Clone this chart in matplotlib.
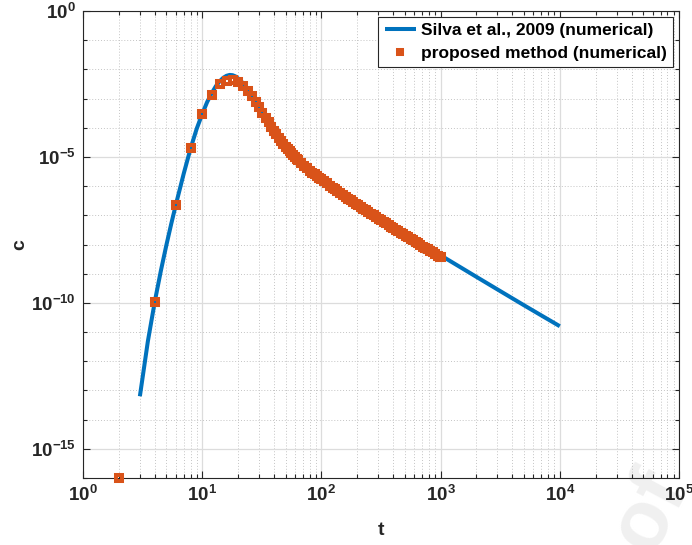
#!/usr/bin/env python3

# plot.py - log-log comparison of concentration curves

import numpy as np
import matplotlib
matplotlib.use('Agg')
import matplotlib.pyplot as plt
from matplotlib.ticker import FixedLocator, LogLocator, LogFormatterMathtext, NullFormatter

# Silva et al., 2009 (line), values as log10(c)
t_silva = [3, 3.5, 4, 4.5, 5, 5.5, 6, 7, 8, 9, 10, 11, 12, 13, 14, 15, 16, 17, 18, 19, 20,
           22, 24, 26, 28, 30, 32, 34, 36, 38, 40, 45, 50, 55, 60, 70, 80, 90, 100,
           120, 150, 200, 300, 500, 700, 1000, 2000, 3000, 5000, 7000, 10000]
logc_silva = [-13.2, -11.32, -9.96, -8.90, -8.03, -7.29, -6.65, -5.57, -4.70, -4.03, -3.53,
              -3.12, -2.82, -2.58, -2.41, -2.29, -2.22, -2.19, -2.20, -2.24, -2.31,
              -2.47, -2.66, -2.86, -3.06, -3.25, -3.43, -3.60, -3.76, -3.91, -4.04,
              -4.33, -4.57, -4.77, -4.94, -5.18, -5.40, -5.56, -5.70,
              -5.93, -6.22, -6.57, -7.03, -7.61, -7.98, -8.37, -9.11, -9.54, -10.08, -10.43, -10.80]

# proposed method (markers), log10(c)
t_prop = [2, 4, 6, 8, 10, 12, 14, 16, 18, 20, 22, 24, 26, 28, 30, 32, 34, 36, 38, 40,
          42, 44, 46, 48, 50, 52, 54, 56, 58, 60,
          62, 64, 68, 72, 76, 80, 84, 88, 92, 96, 100,
          106, 112, 118, 124, 130, 136, 144, 152, 160, 168, 176, 184,
          194, 204, 214, 224, 236, 248, 260, 274, 288, 302, 316,
          332, 348, 366, 384, 402, 422, 442, 464, 486, 510, 534, 560, 588,
          616, 646, 678, 710, 744, 780, 818, 858, 900, 944, 990, 1000]
logc_prop = [-16.0, -9.97, -6.65, -4.70, -3.54, -2.87, -2.51, -2.39, -2.38, -2.44,
             -2.56, -2.73, -2.92, -3.11, -3.30, -3.48, -3.65, -3.81, -3.96, -4.10,
             -4.23, -4.35, -4.46, -4.56, -4.65, -4.73, -4.81, -4.88, -4.95, -5.01,
             -5.07, -5.12, -5.22, -5.31, -5.39, -5.47, -5.54, -5.60, -5.66, -5.71, -5.76,
             -5.84, -5.91, -5.98, -6.05, -6.11, -6.17, -6.24, -6.31, -6.37, -6.43, -6.48, -6.54,
             -6.60, -6.66, -6.72, -6.77, -6.83, -6.89, -6.94, -7.00, -7.06, -7.11, -7.17,
             -7.22, -7.27, -7.33, -7.39, -7.44, -7.49, -7.54, -7.60, -7.65, -7.70, -7.75, -7.81, -7.86,
             -7.91, -7.96, -8.02, -8.07, -8.12, -8.17, -8.22, -8.27, -8.33, -8.38, -8.43, -8.44]

labels = ['Silva et al., 2009 (numerical)', 'proposed method (numerical)']

BLUE = '#0072BD'
ORANGE = '#D95319'
AXC = '#262626'

plt.rcParams['font.family'] = ['Liberation Sans', 'DejaVu Sans']
plt.rcParams['font.weight'] = 'bold'
plt.rcParams['mathtext.fontset'] = 'custom'
plt.rcParams['mathtext.rm'] = 'Liberation Sans:bold'
plt.rcParams['mathtext.bf'] = 'Liberation Sans:bold'
plt.rcParams['mathtext.it'] = 'Liberation Sans:bold:italic'
plt.rcParams['axes.unicode_minus'] = False


def main():
    fig = plt.figure(figsize=(6.92, 5.45), dpi=100)
    ax = fig.add_axes([83 / 692, 1 - 478 / 545, 596 / 692, 467 / 545])
    ax.set_facecolor('none')

    c_silva = 10.0 ** np.array(logc_silva)
    c_prop = 10.0 ** np.array(logc_prop)

    ax.plot(t_silva, c_silva, color=BLUE, lw=2.9, solid_capstyle='butt',
            label=labels[0], zorder=3)
    ax.plot(t_prop, c_prop, ls='none', marker='s', ms=3.8, mew=2.9,
            mec=ORANGE, mfc='none', clip_on=False, label=labels[1], zorder=4)

    ax.set_xscale('log')
    ax.set_yscale('log')
    ax.set_xlim(1, 1e5)
    ax.set_ylim(1e-16, 1)

    ax.xaxis.set_major_locator(FixedLocator([10.0 ** k for k in range(0, 6)]))
    ax.xaxis.set_minor_locator(LogLocator(base=10, subs=np.arange(2, 10), numticks=20))
    ax.xaxis.set_major_formatter(LogFormatterMathtext())
    ax.xaxis.set_minor_formatter(NullFormatter())

    ax.yaxis.set_major_locator(FixedLocator([1e0, 1e-5, 1e-10, 1e-15]))
    ax.yaxis.set_minor_locator(FixedLocator([10.0 ** -k for k in range(1, 17) if k % 5 != 0]))
    ax.yaxis.set_major_formatter(LogFormatterMathtext())
    ax.yaxis.set_minor_formatter(NullFormatter())

    ax.grid(which='major', color='#dcdcdc', lw=0.9, ls='-', zorder=0)
    ax.grid(which='minor', color='#c4c4c4', lw=0.7, ls=(0, (1, 2)), zorder=0)
    ax.set_axisbelow(True)

    ax.tick_params(which='both', direction='in', top=True, right=True, color=AXC,
                   labelcolor=AXC, width=0.8)
    ax.tick_params(which='major', length=5, labelsize=13.5, pad=5)
    ax.tick_params(which='minor', length=3)
    for sp in ax.spines.values():
        sp.set_color(AXC)
        sp.set_linewidth(0.8)

    ax.set_xlabel('t', fontsize=14, fontweight='bold', color=AXC, labelpad=12)
    ax.set_ylabel('c', fontsize=14, fontweight='bold', color=AXC, labelpad=2)

    leg = ax.legend(loc='upper right', fontsize=12.5, frameon=True, fancybox=False,
                    edgecolor=AXC, framealpha=1, borderpad=0.35, labelspacing=0.45,
                    handlelength=1.8, handletextpad=0.3, borderaxespad=0.35,
                    markerscale=0.8)
    leg.get_frame().set_linewidth(0.8)

    # faint watermark in the bottom right corner
    fig.text(650 / 692, 1 - 510 / 545, 'of', fontsize=60, color='#f0f0f0',
             rotation=62, ha='center', va='center', zorder=-5)

    fig.savefig('out.png', dpi=100)


if __name__ == "__main__":
    main()
